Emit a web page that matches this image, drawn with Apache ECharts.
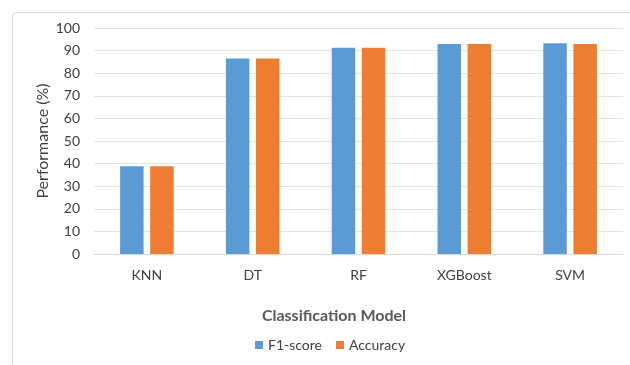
<!DOCTYPE html>
<html>
<head>
<meta charset="utf-8">
<script src="https://cdn.jsdelivr.net/npm/echarts@6/dist/echarts.min.js"></script>
<style>
  html, body { margin: 0; padding: 0; background: #fff; }
  #chart { width: 630px; height: 365px; }
</style>
</head>
<body>
<div id="chart"></div>
<script>
// Model performance comparison: F1-score vs accuracy per classifier
const models = ['KNN', 'DT', 'RF', 'XGBoost', 'SVM'];
const f1Score = [38.8, 86.5, 91.3, 92.9, 93.2];
const accuracy = [38.8, 86.5, 91.3, 92.9, 92.9];
const yTicks = [0, 10, 20, 30, 40, 50, 60, 70, 80, 90, 100];

const FONT = 'Lato';
const chart = echarts.init(document.getElementById('chart'), null, { renderer: 'canvas' });

chart.setOption({
  animation: false,
  backgroundColor: '#ffffff',
  textStyle: { fontFamily: FONT },
  graphic: [{
    type: 'rect',
    left: 10, top: 10,
    shape: { width: 660, height: 400, r: 4 },
    style: { fill: 'none', stroke: '#d9d9d9', lineWidth: 1 },
    silent: true, z: -10
  }],
  // x-axis caption, centred on the chart frame rather than the plot
  title: {
    text: 'Classification Model',
    left: 329, top: 303,
    textAlign: 'center',
    textStyle: { fontFamily: FONT, fontSize: 16, fontWeight: 'bold', color: '#595959' }
  },
  grid: { left: 94, right: 7, top: 28, bottom: 111, containLabel: false },
  legend: {
    data: ['F1-score', 'Accuracy'],
    left: 250, top: 333,
    itemWidth: 8, itemHeight: 8, itemGap: 14,
    icon: 'rect',
    textStyle: { fontFamily: FONT, fontSize: 14, color: '#404040', padding: [0, 0, 0, 0] }
  },
  xAxis: {
    type: 'category',
    data: models,
    axisLine: { show: true, lineStyle: { color: '#d9d9d9', width: 1 } },
    axisTick: { show: false },
    axisLabel: { margin: 14, fontFamily: FONT, fontSize: 14, color: '#404040' }
  },
  yAxis: {
    type: 'value',
    min: yTicks[0], max: yTicks[yTicks.length - 1], interval: 10,
    name: 'Performance (%)',
    nameLocation: 'middle',
    nameGap: 43,
    nameMoveOverlap: false,
    nameTextStyle: { fontFamily: FONT, fontSize: 16, color: '#404040' },
    axisLine: { show: false },
    axisTick: { show: false },
    axisLabel: { margin: 14, fontFamily: FONT, fontSize: 14, color: '#404040' },
    splitLine: { show: true, lineStyle: { color: '#e3e3e3', width: 1 } }
  },
  series: [
    {
      name: 'F1-score', type: 'bar', data: f1Score,
      barWidth: 23.5, barGap: '28%',
      itemStyle: { color: '#5B9BD5' }
    },
    {
      name: 'Accuracy', type: 'bar', data: accuracy,
      barWidth: 23.5, barGap: '28%',
      itemStyle: { color: '#ED7D31' }
    }
  ]
});
</script>
</body>
</html>
